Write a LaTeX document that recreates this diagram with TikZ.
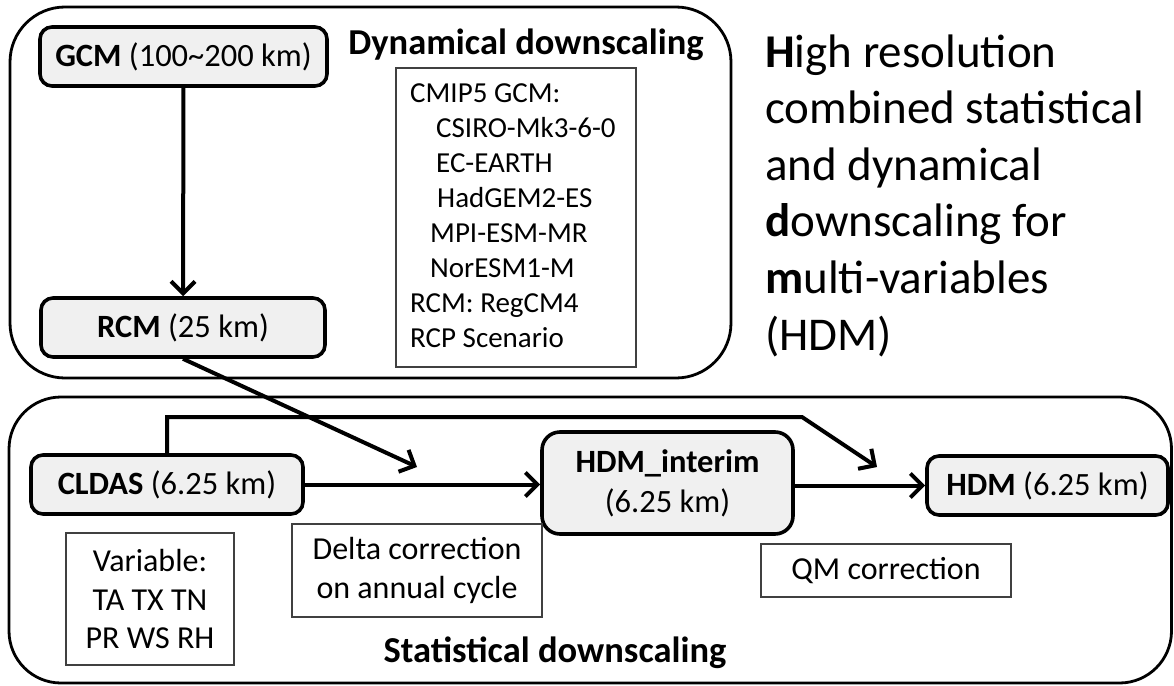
\documentclass[tikz,border=0pt]{standalone}
\usepackage{fontspec}
\setmainfont{Carlito}
\usetikzlibrary{arrows.meta}
\definecolor{boxfill}{HTML}{F0F0F0}
\definecolor{boxline}{HTML}{404040}
\begin{document}
\begin{tikzpicture}[x=1pt,y=-1pt,
  bigbox/.style={draw, line width=2.8pt},
  nodebox/.style={draw, line width=3.6pt, rounded corners=12pt, fill=boxfill, inner sep=0pt, align=center, font=\fontsize{32.5}{40}\selectfont},
  txtbox/.style={draw=boxline, line width=1.6pt, inner sep=0pt, align=center, font=\fontsize{32}{38.5}\selectfont},
  listtxt/.style={anchor=base west, inner sep=0pt, font=\fontsize{29}{35}\selectfont},
  titletxt/.style={anchor=base west, inner sep=0pt, font=\fontsize{47}{56.6}\selectfont},
  headtxt/.style={anchor=base, inner sep=0pt, font=\fontsize{36.5}{43}\selectfont\bfseries},
  arr/.style={line width=4pt, -{Straight Barb[length=12pt,width=24pt]}}]
\useasboundingbox (0,0) rectangle (1174,685);
% big boxes
\draw[bigbox, rounded corners=55pt] (10,7) rectangle (731,378);
\draw[bigbox, rounded corners=52pt] (9,397) rectangle (1171.5,683);
% headings
\node[headtxt] (dynhead) at (526,55) {Dynamical downscaling};
\node[headtxt] (stathead) at (555,662) {Statistical downscaling};
% main nodes
\node[nodebox, minimum width=287pt, minimum height=59pt] (gcm) at (183.5,56.5) {\textbf{GCM} (100\char"007E 200 km)};
\node[nodebox, minimum width=284pt, minimum height=59pt] (rcm) at (183,327.5) {\textbf{RCM} (25 km)};
\node[nodebox, minimum width=272pt, minimum height=59pt] (cldas) at (167,484.5) {\textbf{CLDAS} (6.25 km)};
\node[nodebox, rounded corners=18pt, minimum width=251pt, minimum height=102pt] (interim) at (667.5,483) {\textbf{HDM\_interim}\\(6.25 km)};
\node[nodebox, minimum width=241pt, minimum height=59pt] (hdm) at (1047.5,485.5) {\textbf{HDM} (6.25 km)};
% text boxes
\node[txtbox, minimum width=240pt, minimum height=299pt] (listbox) at (516,217.5) {};
\foreach \i/\xx/\t in {1/410/{CMIP5 GCM:},2/436/{CSIRO-Mk3-6-0},3/436/{EC-EARTH},4/437/{HadGEM2-ES},5/430/{MPI-ESM-MR},6/430/{NorESM1-M},7/410/{RCM: RegCM4},8/410/{RCP Scenario}}
  \node[listtxt] (gl\i) at (\xx,{102+35*(\i-1)}) {\t};
\node[txtbox, minimum width=168pt, minimum height=132pt] (varbox) at (150,599) {Variable:\\TA TX TN\\PR WS RH};
\node[txtbox, minimum width=250pt, minimum height=93pt] (deltabox) at (417,570.5) {Delta correction\\on annual cycle};
\node[txtbox, minimum width=250pt, minimum height=53pt] (qmbox) at (886,570.5) {QM correction};
% title
\foreach \i/\t in {1/{\textbf{H}igh resolution},2/{combined statistical},3/{and dynamical},4/{\textbf{d}ownscaling for},5/{\textbf{m}ulti-variables},6/{(HDM)}}
  \node[titletxt] (tl\i) at (765,{67+56.6*(\i-1)}) {\t};
% connectors
\coordinate (rcmend) at (417,467);
\coordinate (topturn) at (802,417);
\coordinate (qmend) at (877,467);
\draw[arr] (gcm) -- (rcm);
\draw[arr] (rcm.south) -- (rcmend);
\draw[arr] (cldas.north) |- (topturn) -- (qmend);
\draw[arr] (cldas.east) -- (interim.west |- cldas.east);
\draw[arr] (interim.east |- hdm.west) -- (hdm.west);
\end{tikzpicture}
\end{document}
